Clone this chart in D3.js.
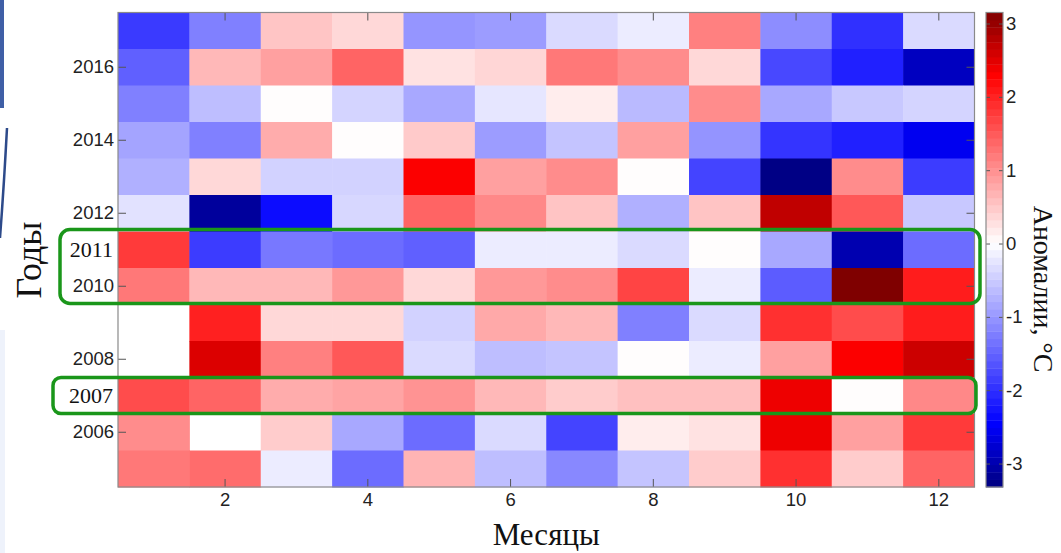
<!DOCTYPE html>
<html>
<head>
<meta charset="utf-8">
<script src="https://cdn.jsdelivr.net/npm/d3@7"></script>
<style>
  body { margin: 0; background: #fff; }
  svg { display: block; font-family: 'Liberation Sans', Arial, sans-serif; }
  .serif { font-family: 'Liberation Serif', 'Times New Roman', serif; }
  .axis line { stroke: #555; }
</style>
</head>
<body>
<svg id="chart" width="1061" height="553"></svg>
<script>
// categories
const MONTHS = [1, 2, 3, 4, 5, 6, 7, 8, 9, 10, 11, 12];
const YEARS = [2017, 2016, 2015, 2014, 2013, 2012, 2011, 2010, 2009, 2008, 2007, 2006, 2005];
const MONTH_TICKS = [2, 4, 6, 8, 10, 12];
const YEAR_TICKS = [2006, 2008, 2010, 2012, 2014, 2016];
const SERIF_YEARS = [2011, 2007];
const BAR_TICKS = [-3, -2, -1, 0, 1, 2, 3];

// temperature anomalies, one row per year (top to bottom), null = no data
const anomalies = [
  [-1.89, -1.22, 0.52, 0.35, -1.02, -0.95, -0.36, -0.18, 1.15, -1.10, -1.99, -0.36],
  [-1.53, 0.64, 0.86, 1.40, 0.26, 0.37, 1.22, 1.04, 0.35, -1.76, -2.14, -2.88],
  [-1.22, -0.62, 0.02, -0.41, -0.84, -0.24, 0.16, -0.66, 1.04, -0.84, -0.53, -0.41],
  [-0.87, -1.22, 0.75, 0.02, 0.48, -0.95, -0.57, 0.86, -1.03, -1.95, -2.14, -2.55],
  [-0.76, 0.35, -0.43, -0.43, 2.32, 0.86, 1.04, 0.02, -1.80, -3.28, 1.04, -1.87],
  [-0.28, -3.12, -2.33, -0.38, 1.40, 1.07, 0.53, -0.76, 0.53, 2.72, 1.51, -0.53],
  [1.78, -1.87, -1.30, -1.41, -1.53, -0.18, -0.18, -0.36, 0.02, -0.84, -2.99, -1.41],
  [1.22, 0.64, 0.64, 0.93, 0.35, 0.93, 1.04, 1.69, -0.18, -1.57, 3.15, 2.05],
  [null, 2.01, 0.35, 0.35, -0.43, 0.78, 0.64, -1.22, -0.36, 1.87, 1.61, 2.05],
  [null, 2.53, 1.15, 1.51, -0.36, -0.62, -0.57, 0.02, -0.18, 0.86, 2.32, 2.64],
  [1.61, 1.40, 0.75, 0.82, 0.97, 0.64, 0.46, 0.57, 0.57, 2.41, 0.02, 1.07],
  [1.04, null, 0.46, -0.84, -1.41, -0.36, -1.80, 0.16, 0.26, 2.41, 0.86, 1.78],
  [1.22, 1.33, -0.18, -1.41, 0.68, -0.62, -1.14, -0.57, 0.46, 1.87, 0.46, 1.40]
];

const COLOR_DOMAIN = [-3.32, -2.45, 0, 2.3, 3.15];
const COLOR_RANGE = ['#00007f', '#0000ff', '#ffffff', '#ff0000', '#7f0000'];

const PLOT = { left: 118, right: 974.5, top: 12.5, bottom: 487 };
const BAR = { left: 986, right: 1003 };
const BAR_STEPS = 64;
const GREEN = '#1a961a';

function styleAxis (g) {
  g.select('.domain').remove();
  g.attr('font-size', 18.5).attr('font-family', "'Liberation Sans', Arial, sans-serif");
  g.selectAll('text').attr('fill', '#222');
}

function render () {
  const svg = d3.select('#chart');

  // slide edge leftovers
  svg.append('rect').attr('x', 0).attr('y', 0).attr('width', 4).attr('height', 108).attr('fill', '#3f5fa6');
  svg.append('path').attr('d', 'M7,128 Q4,185 0,238').attr('fill', 'none').attr('stroke', '#2d4a8a').attr('stroke-width', 2.5);
  svg.append('rect').attr('x', 0).attr('y', 330).attr('width', 5).attr('height', 223).attr('fill', '#eef2fb');

  const x = d3.scaleBand().domain(MONTHS).range([PLOT.left, PLOT.right]);
  const y = d3.scaleBand().domain(YEARS).range([PLOT.top, PLOT.bottom]);
  const color = d3.scaleLinear().domain(COLOR_DOMAIN).range(COLOR_RANGE).clamp(true);

  // cells
  let cells = [];
  anomalies.forEach((row, i) => {
    row.forEach((v, j) => {
      if (v !== null) cells.push({ year: YEARS[i], month: MONTHS[j], value: v });
    });
  });
  svg.append('g').selectAll('rect')
    .data(cells)
    .enter().append('rect')
    .attr('x', d => x(d.month))
    .attr('y', d => y(d.year))
    .attr('width', x.bandwidth() + 0.5)
    .attr('height', y.bandwidth() + 0.5)
    .attr('fill', d => color(d.value));

  // axes, ticks pointing inward on all four sides
  svg.append('g').attr('class', 'axis').attr('transform', 'translate(0,' + PLOT.bottom + ')')
    .call(d3.axisBottom(x).tickValues(MONTH_TICKS).tickSize(-8).tickPadding(6))
    .call(styleAxis);
  svg.append('g').attr('class', 'axis').attr('transform', 'translate(0,' + PLOT.top + ')')
    .call(d3.axisTop(x).tickValues(MONTH_TICKS).tickSize(-8).tickFormat(''))
    .call(styleAxis);
  svg.append('g').attr('class', 'axis').attr('transform', 'translate(' + PLOT.left + ',0)')
    .call(d3.axisLeft(y).tickValues(YEAR_TICKS).tickSize(-8).tickPadding(4))
    .call(styleAxis);
  svg.append('g').attr('class', 'axis').attr('transform', 'translate(' + PLOT.right + ',0)')
    .call(d3.axisRight(y).tickValues(YEAR_TICKS).tickSize(-8).tickFormat(''))
    .call(styleAxis);

  svg.append('rect')
    .attr('x', PLOT.left).attr('y', PLOT.top)
    .attr('width', PLOT.right - PLOT.left).attr('height', PLOT.bottom - PLOT.top)
    .attr('fill', 'none').attr('stroke', '#8a8a8a').attr('stroke-width', 1.2);

  // serif labels added on top for the highlighted years
  svg.append('g').selectAll('text')
    .data(SERIF_YEARS)
    .enter().append('text')
    .attr('class', 'serif')
    .attr('x', PLOT.left - 5)
    .attr('y', d => y(d) + y.bandwidth() / 2)
    .attr('dy', '0.35em')
    .attr('text-anchor', 'end')
    .attr('font-size', 22)
    .attr('fill', '#111')
    .text(d => d);

  // highlight boxes
  svg.append('rect')
    .attr('x', 60).attr('y', y(2011) - 2)
    .attr('width', 920).attr('height', y(2010) + y.bandwidth() - y(2011) + 1)
    .attr('rx', 10).attr('fill', 'none').attr('stroke', GREEN).attr('stroke-width', 3.5);
  svg.append('rect')
    .attr('x', 53).attr('y', y(2007))
    .attr('width', 923).attr('height', y.bandwidth() - 0.5)
    .attr('rx', 8).attr('fill', 'none').attr('stroke', GREEN).attr('stroke-width', 3.5);

  // colorbar
  const cb = d3.scaleLinear().domain([COLOR_DOMAIN[0], COLOR_DOMAIN[COLOR_DOMAIN.length - 1]])
    .range([PLOT.bottom, PLOT.top]);
  const lo = cb.domain()[0];
  const stepSize = (cb.domain()[1] - lo) / BAR_STEPS;
  svg.append('g').selectAll('rect')
    .data(d3.range(BAR_STEPS))
    .enter().append('rect')
    .attr('x', BAR.left)
    .attr('y', i => cb(lo + (i + 1) * stepSize))
    .attr('width', BAR.right - BAR.left)
    .attr('height', i => cb(lo + i * stepSize) - cb(lo + (i + 1) * stepSize) + 0.4)
    .attr('fill', i => color(lo + (i + 0.5) * stepSize));
  svg.append('g').attr('class', 'axis').attr('transform', 'translate(' + BAR.left + ',0)')
    .call(d3.axisLeft(cb).tickValues(BAR_TICKS).tickSize(-4).tickFormat(''))
    .call(styleAxis);
  svg.append('g').attr('class', 'axis').attr('transform', 'translate(' + BAR.right + ',0)')
    .call(d3.axisRight(cb).tickValues(BAR_TICKS).tickSize(-4).tickPadding(3).tickFormat(d => String(d)))
    .call(styleAxis);
  svg.append('rect')
    .attr('x', BAR.left).attr('y', PLOT.top)
    .attr('width', BAR.right - BAR.left).attr('height', PLOT.bottom - PLOT.top)
    .attr('fill', 'none').attr('stroke', '#8a8a8a').attr('stroke-width', 1.2);

  // axis titles
  svg.append('text').attr('class', 'serif')
    .attr('x', (PLOT.left + PLOT.right) / 2).attr('y', 545)
    .attr('text-anchor', 'middle').attr('font-size', 31).attr('fill', '#111')
    .text('Месяцы');
  svg.append('text').attr('class', 'serif')
    .attr('transform', 'translate(41,260) rotate(-90)')
    .attr('text-anchor', 'middle').attr('font-size', 36).attr('fill', '#111')
    .text('Годы');
  svg.append('text').attr('class', 'serif')
    .attr('transform', 'translate(1034,289) rotate(90)')
    .attr('text-anchor', 'middle').attr('font-size', 28).attr('fill', '#111')
    .text('Аномалии, °C');
}

render();
</script>
</body>
</html>
